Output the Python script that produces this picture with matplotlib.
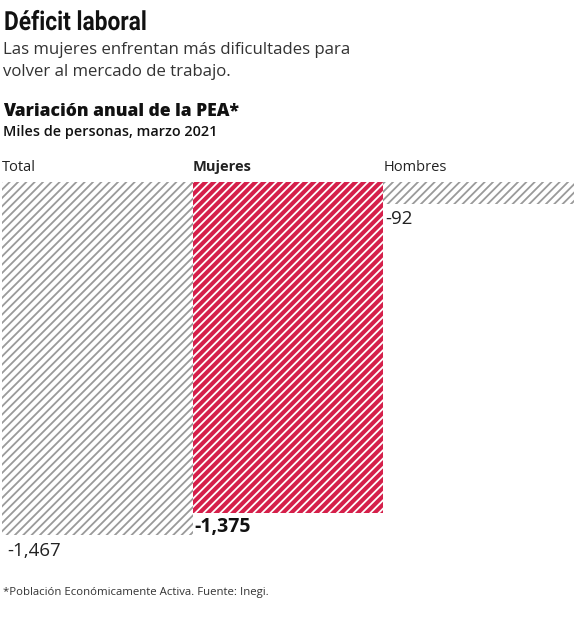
import matplotlib
matplotlib.use("Agg")
import matplotlib.pyplot as plt
from matplotlib.transforms import blended_transform_factory, Affine2D
from matplotlib.patheffects import AbstractPathEffect

categories = ["Total", "Mujeres", "Hombres"]
values = [-1467, -1375, -92]
value_labels = ["-1,467", "-1,375", "-92"]

RED = "#d51f4a"
GRAY = "#9a9a9a"
TXT = "#222222"

plt.rcParams["hatch.linewidth"] = 1.3

W, H = 577, 620
DPI = 100
fig = plt.figure(figsize=(W / DPI, H / DPI), dpi=DPI)
fig.patch.set_facecolor("white")

ax = fig.add_axes([2 / W, (H - 535) / H, 572 / W, (535 - 182) / H])
ax.set_xlim(-0.5, 2.5)
ax.set_ylim(min(values), 0)
ax.axis("off")

x = list(range(len(categories)))
faces = ["white", RED, "white"]
hatch_cols = [GRAY, "white", GRAY]
for xi, v, fc, hc in zip(x, values, faces, hatch_cols):
    ax.bar(xi, v, width=1.0, color=fc, edgecolor=hc, hatch="////", linewidth=0)

# category labels above bars
tr = blended_transform_factory(ax.transData, fig.transFigure)
for xi, c in zip(x, categories):
    ax.text(xi - 0.5, (H - 167) / H, c, transform=tr, ha="left", va="center",
            fontsize=10.5, family="Open Sans", color=TXT,
            fontweight="bold" if c == "Mujeres" else "normal")

# value labels
ax.annotate(value_labels[0], (x[0] - 0.47, values[0]), xytext=(0, -5),
            textcoords="offset points", ha="left", va="top",
            fontsize=13.5, family="Open Sans", color=TXT)
ax.annotate(value_labels[1], (x[1] - 0.49, values[1]), xytext=(0, -3),
            textcoords="offset points", ha="left", va="top",
            fontsize=14, family="Open Sans", color="#111111", fontweight="bold")
ax.annotate(value_labels[2], (x[2] - 0.49, values[2]), xytext=(0, -4),
            textcoords="offset points", ha="left", va="top",
            fontsize=13.5, family="Open Sans", color=TXT)


class HScale(AbstractPathEffect):
    """Horizontally condense text around a fixed display x position."""
    def __init__(self, sx, x0):
        super().__init__()
        self.sx = sx
        self.x0 = x0

    def draw_path(self, renderer, gc, tpath, affine, rgbFace=None):
        a = affine + Affine2D().translate(-self.x0, 0).scale(self.sx, 1).translate(self.x0, 0)
        renderer.draw_path(gc, tpath, a, rgbFace)


# header texts
title = fig.text(4 / W, 1 - 30 / H, "Déficit laboral", ha="left", va="baseline",
                 fontsize=19, family="Roboto", fontweight="bold", color="#111111")
renderer = fig.canvas.get_renderer()
bb = title.get_window_extent(renderer)
target_w = 143
title.set_path_effects([HScale(target_w / bb.width, bb.x0)])

fig.text(3 / W, 1 - 50 / H, "Las mujeres enfrentan más dificultades para", ha="left",
         va="center", fontsize=12.1, family="Open Sans", color="#333333")
fig.text(3 / W, 1 - 72 / H, "volver al mercado de trabajo.", ha="left",
         va="center", fontsize=12.1, family="Open Sans", color="#333333")
fig.text(3 / W, 1 - 112 / H, "Variación anual de la PEA*", ha="left", va="center",
         fontsize=12.6, family="Open Sans", fontweight="heavy", color="#111111")
fig.text(3 / W, 1 - 132 / H, "Miles de personas, marzo 2021", ha="left", va="center",
         fontsize=10.4, family="Open Sans", fontweight="semibold", color="#111111")
fig.text(3 / W, 1 - 593 / H, "*Población Económicamente Activa. Fuente: Inegi.", ha="left",
         va="center", fontsize=8.2, family="Open Sans", color="#333333")

fig.savefig("out.png", dpi=DPI, facecolor="white")
